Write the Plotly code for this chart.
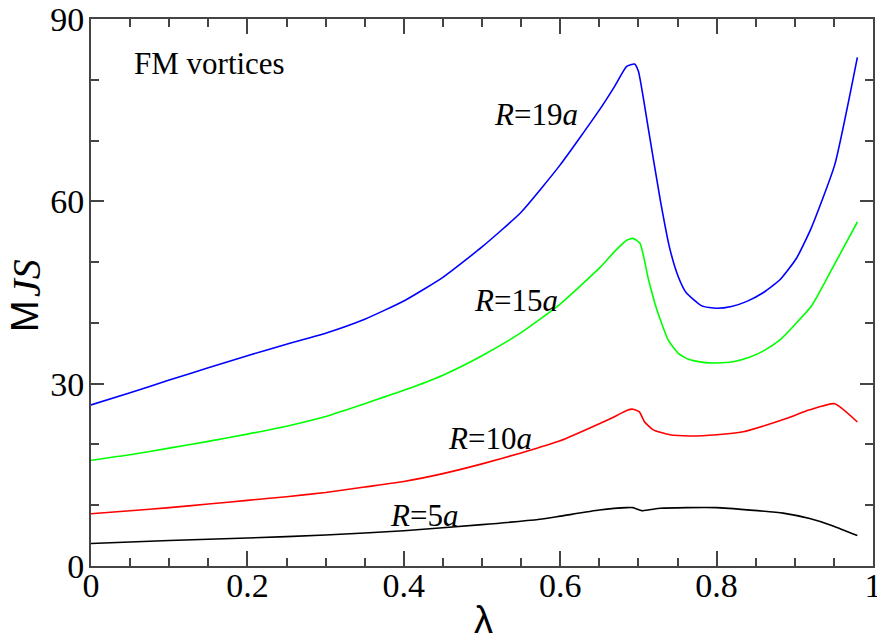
import plotly.graph_objects as go

# R = 19a (blue)
lam_19 = [0, 0.05, 0.1, 0.15, 0.2, 0.25, 0.3, 0.35, 0.4, 0.45, 0.5, 0.55, 0.6, 0.65, 0.67, 0.685,
          0.695, 0.70, 0.713, 0.728, 0.740, 0.751, 0.761, 0.781, 0.8, 0.819, 0.838, 0.86, 0.881,
          0.902, 0.921, 0.951, 0.98]
mjs_19 = [26.5, 28.5, 30.6, 32.6, 34.6, 36.5, 38.3, 40.6, 43.6, 47.5, 52.5, 58.2, 66.0, 75.0, 79.0, 82.2,
          82.6, 81.4, 71.7, 60.2, 52.3, 47.6, 45.0, 42.8, 42.4, 42.7, 43.5, 45.0, 47.1,
          50.6, 55.6, 66.0, 83.7]

# R = 15a (green)
lam_15 = [0, 0.05, 0.1, 0.15, 0.2, 0.25, 0.3, 0.35, 0.4, 0.45, 0.5, 0.55, 0.6, 0.65, 0.67, 0.685,
          0.693, 0.702, 0.713, 0.723, 0.738, 0.751, 0.764, 0.783, 0.8, 0.821, 0.841, 0.86, 0.881,
          0.9, 0.922, 0.949, 0.98]
mjs_15 = [17.4, 18.3, 19.4, 20.5, 21.7, 23.0, 24.6, 26.7, 28.9, 31.4, 34.6, 38.4, 43.1, 49.0, 51.8, 53.6,
          53.9, 53.1, 47.1, 42.4, 37.2, 35.0, 34.0, 33.5, 33.4, 33.6, 34.3, 35.4, 37.2,
          39.7, 42.9, 49.2, 56.6]

# R = 10a (red)
lam_10 = [0, 0.05, 0.1, 0.15, 0.2, 0.25, 0.3, 0.35, 0.4, 0.45, 0.5, 0.55, 0.6, 0.65, 0.67, 0.685,
          0.693, 0.701, 0.708, 0.719, 0.74, 0.766, 0.8, 0.834, 0.864, 0.89, 0.919, 0.951, 0.98]
mjs_10 = [8.6, 9.1, 9.6, 10.2, 10.8, 11.4, 12.1, 13.0, 13.9, 15.2, 16.8, 18.6, 20.6, 23.4, 24.6, 25.6,
          25.8, 25.4, 23.7, 22.4, 21.6, 21.4, 21.6, 22.1, 23.2, 24.3, 25.7, 26.7, 23.7]

# R = 5a (black)
lam_5 = [0, 0.1, 0.2, 0.3, 0.4, 0.5, 0.574, 0.6, 0.65, 0.685, 0.693, 0.705, 0.728, 0.762, 0.8,
         0.843, 0.885, 0.919, 0.949, 0.98]
mjs_5 = [3.7, 4.2, 4.6, 5.1, 5.8, 6.8, 7.7, 8.2, 9.2, 9.6, 9.6, 9.1, 9.5, 9.6, 9.6,
         9.2, 8.7, 7.8, 6.6, 5.0]

x_ticks = [0, 0.2, 0.4, 0.6, 0.8, 1]
x_labels = ["0", "0.2", "0.4", "0.6", "0.8", "1"]
y_ticks = [0, 30, 60, 90]
y_labels = ["0", "30", "60", "90"]

series = [
    (lam_19, mjs_19, "#0000ff", "R=19a"),
    (lam_15, mjs_15, "#00ff00", "R=15a"),
    (lam_10, mjs_10, "#ff0000", "R=10a"),
    (lam_5, mjs_5, "#000000", "R=5a"),
]

fig = go.Figure()
for lx, ly, col, name in series:
    fig.add_trace(go.Scatter(x=lx, y=ly, mode="lines", name=name,
                             line=dict(color=col, width=1.6, shape="spline", smoothing=0.5)))

serif = "Liberation Serif, Times New Roman, serif"
sans = "Liberation Sans, Arial, sans-serif"
axis_col = "#444444"

common = dict(showgrid=False, zeroline=False, showline=True, linecolor=axis_col, linewidth=2,
              mirror="allticks", ticks="inside", tickcolor=axis_col, tickwidth=2,
              ticklabeloverflow="allow", automargin=False,
              tickfont=dict(family=serif, size=34, color="black"))

fig.update_xaxes(range=[0, 1], tickvals=x_ticks, ticktext=x_labels, ticklen=15,
                 minor=dict(dtick=0.05, ticklen=8, ticks="inside", tickcolor=axis_col, tickwidth=2),
                 ticklabelstandoff=-12, **common)
fig.update_yaxes(range=[0, 90], tickvals=y_ticks, ticktext=y_labels, ticklen=13,
                 minor=dict(dtick=10, ticklen=8, ticks="inside", tickcolor=axis_col, tickwidth=2),
                 ticklabelstandoff=-2, **common)

W, H = 877, 644
L, R, T, B = 91, 4, 19, 78
pw, ph = W - L - R, H - T - B


def to_paper(px, py):
    return (px - L) / pw, (H - B - py) / ph


ann_font = dict(family=serif, size=31, color="black")
labels = [
    (536, 114, "<i>R</i>=19<i>a</i>"),
    (516, 300, "<i>R</i>=15<i>a</i>"),
    (490, 438, "<i>R</i>=10<i>a</i>"),
    (424, 515, "<i>R</i>=5<i>a</i>"),
    (209, 63, "FM vortices"),
]
for px, py, txt in labels:
    ax_, ay_ = to_paper(px, py)
    fig.add_annotation(x=ax_, y=ay_, xref="paper", yref="paper", text=txt,
                       showarrow=False, font=ann_font, xanchor="center", yanchor="middle")

# y-axis title: upright sans "M" followed by italic serif "JS", rotated
mx, my = to_paper(25, 316)
fig.add_annotation(x=mx, y=my, xref="paper", yref="paper", showarrow=False, textangle=-90,
                   text="M", font=dict(family=sans, size=38, color="black"),
                   xanchor="center", yanchor="middle")
jx, jy = to_paper(26, 278)
fig.add_annotation(x=jx, y=jy, xref="paper", yref="paper", showarrow=False, textangle=-90,
                   text="<i>JS</i>", font=dict(family=serif, size=40, color="black"),
                   xanchor="center", yanchor="middle")

lx_, ly_ = to_paper(483, 620)
fig.add_annotation(x=lx_, y=ly_, xref="paper", yref="paper", showarrow=False, text="λ",
                   font=dict(family=sans, size=38, color="black"),
                   xanchor="center", yanchor="middle")

fig.update_layout(width=W, height=H, margin=dict(l=L, r=R, t=T, b=B),
                  plot_bgcolor="white", paper_bgcolor="white", showlegend=False)

fig.write_html("out.html")
